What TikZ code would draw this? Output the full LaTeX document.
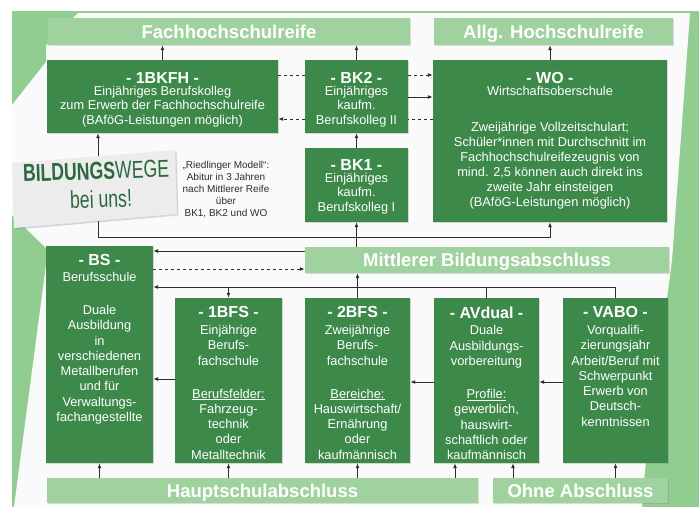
\documentclass[tikz,border=0pt]{standalone}
\usepackage{fontspec}
\setmainfont{Liberation Sans}
\usetikzlibrary{positioning,shadows,arrows.meta}
\definecolor{framegreen}{RGB}{145,205,145}
\definecolor{bargreen}{RGB}{160,210,160}
\definecolor{boxgreen}{RGB}{60,137,74}
\definecolor{signgreen}{RGB}{44,105,62}
\definecolor{paper}{RGB}{250,250,250}
\definecolor{signgray}{RGB}{236,236,236}
\definecolor{linegray}{RGB}{45,45,45}
\newcommand{\ttl}[1]{{\fontsize{16}{16}\selectfont\bfseries - #1 -}}
\newcommand{\drawAtY}[4][]{\draw[#1] (#2 |- 0,#4) to (#3 |- 0,#4)}
\tikzset{
	box/.style={fill=boxgreen, inner sep=0pt, drop shadow={shadow xshift=1.2pt, shadow yshift=-1.2pt, opacity=0.3}},
	lowbox/.style={box, minimum width=105pt, minimum height=165pt},
	bar/.style={fill=bargreen, inner sep=0pt, text=white, font=\fontsize{18.5}{18.5}\selectfont\bfseries, text height=13.2pt, text depth=0pt, minimum height=26pt, drop shadow={shadow xshift=1pt, shadow yshift=-1pt, opacity=0.25}},
	txt/.style={text=white, align=center, inner sep=0pt, font=\fontsize{12.8}{14.6}\selectfont},
	lowtxt/.style={txt, font=\fontsize{12.8}{15.3}\selectfont},
	note/.style={text=linegray, align=center, inner sep=0pt, font=\fontsize{10}{12.2}\selectfont},
	signtxt/.style={text=signgreen, inner sep=0pt, font=\fontsize{24.5}{27}\selectfont, rotate=2}
}
\begin{document}
\begin{tikzpicture}[x=1pt, y=-1pt, >={Latex[length=5pt,width=4pt]}]
	\useasboundingbox (0,0) rectangle (699,507);
	\fill[white] (0,0) rectangle (699,507);
	\fill[framegreen] (12,11) rectangle (699,507);
	\fill[paper] (78,13) -- (690,13) -- (672,260) -- (645,470) -- (642,507) -- (14,507) -- (48,250) -- (12,215) -- (12,105) -- (46,62) -- (46,46) -- cycle;

	\node[bar, minimum width=362pt, minimum height=27pt] (fhr) at (229,31.5) {Fachhochschulreife};
	\node[bar, minimum width=239pt, minimum height=27pt] (ahr) at (553.5,31.5) {Allg. Hochschulreife};
	\node[bar, minimum width=364pt] (mba) at (487,260) {Mittlerer Bildungsabschluss};
	\node[bar, minimum width=431pt, minimum height=25pt] (hsa) at (262.5,490.5) {Hauptschulabschluss};
	\node[bar, minimum width=175pt, minimum height=25pt] (oa) at (580.5,490.5) {Ohne Abschluss};

	\node[box, minimum width=231pt, minimum height=73pt] (bkfh) at (162.5,96.5) {};
	\node[box, minimum width=103pt, minimum height=73pt] (bktwo) at (356.5,96.5) {};
	\node[box, minimum width=103pt, minimum height=74pt] (bkone) at (356.5,185) {};
	\node[box, minimum width=234pt, minimum height=162pt] (wo) at (550,141) {};
	\node[box, minimum width=107pt, minimum height=217pt] (bs) at (99.5,354.5) {};
	\node[lowbox, minimum width=107pt] (bfsone) at (228.5,380.5) {};
	\node[lowbox] (bfstwo) at (357.5,380.5) {};
	\node[lowbox] (avdual) at (486.5,380.5) {};
	\node[lowbox] (vabo) at (615.5,380.5) {};

	\node[txt, below=12pt of bkfh.north] (bkfh-t) {\ttl{1BKFH}\\[-2.6pt]
		Einjähriges Berufskolleg\\ zum Erwerb der Fachhochschulreife\\ (BAföG-Leistungen möglich)};
	\node[txt, below=12pt of bktwo.north] (bktwo-t) {\ttl{BK2}\\[-2.6pt]
		Einjähriges\\ kaufm.\\ Berufskolleg II};
	\node[txt, below=11pt of bkone.north] (bkone-t) {\ttl{BK1}\\[-2.6pt]
		Einjähriges\\ kaufm.\\ Berufskolleg I};
	\node[txt, font=\fontsize{12.8}{15}\selectfont, below=12pt of wo.north] (wo-t) {\ttl{WO}\\[-3pt]
		Wirtschaftsoberschule\\[21pt]
		Zweijährige Vollzeitschulart;\\ Schüler*innen mit Durchschnitt im\\
		Fachhochschulreifezeugnis von\\ mind. 2,5 können auch direkt ins\\
		zweite Jahr einsteigen\\ (BAföG-Leistungen möglich)};
	\node[lowtxt, below=8.5pt of bs.north] (bs-t) {\ttl{BS}\\[0.5pt]
		Berufsschule\\[17.7pt]
		Duale\\ Ausbildung\\ in\\ verschiedenen\\ Metallberufen\\ und für\\ Verwaltungs-\\ fachangestellte};
	\node[lowtxt, below=8.5pt of bfsone.north] (bfsone-t) {\ttl{1BFS}\\[1.5pt]
		Einjährige\\ Berufs-\\ fachschule\\[17.7pt]
		\underline{Berufsfelder:}\\ Fahrzeug-\\ technik\\ oder\\ Metalltechnik};
	\node[lowtxt, below=8.5pt of bfstwo.north] (bfstwo-t) {\ttl{2BFS}\\[1.5pt]
		Zweijährige\\ Berufs-\\ fachschule\\[17.7pt]
		\underline{Bereiche:}\\ Hauswirtschaft/\\ Ernährung\\ oder\\ kaufmännisch};
	\node[lowtxt, below=8.5pt of avdual.north] (avdual-t) {\ttl{AVdual}\\[1.5pt]
		Duale\\ Ausbildungs-\\ vorbereitung\\[17.7pt]
		\underline{Profile:}\\ gewerblich,\\ hauswirt-\\ schaftlich oder\\ kaufmännisch};
	\node[lowtxt, below=8.5pt of vabo.north] (vabo-t) {\ttl{VABO}\\[1.5pt]
		Vorqualifi-\\ zierungsjahr\\ Arbeit/Beruf mit\\ Schwerpunkt\\ Erwerb von\\ Deutsch-\\ kenntnissen};

	\node[note] (riedl) at (226,189.5) {„Riedlinger Modell“:\\ Abitur in 3 Jahren\\ nach Mittlerer Reife\\ über\\ BK1, BK2 und WO};

	\begin{scope}[draw=linegray, line width=1pt]
		\draw[->] (bkfh.north) to (bkfh.north |- fhr.south);
		\draw[->] (bktwo.north) to (bktwo.north |- fhr.south);
		\draw[->] (wo.north) to (wo.north |- ahr.south);
		\draw[->] (bkone.north) to (bktwo.south);
		\drawAtY[dashed]{bkfh.east}{bktwo.west}{75};
		\drawAtY[dashed,->]{bktwo.east}{wo.west}{75};
		\drawAtY[->]{bktwo.east}{wo.west}{97};
		\drawAtY[dashed]{wo.west}{bktwo.east}{119};
		\drawAtY[dashed,->]{bktwo.west}{bkfh.east}{119};

		\coordinate (split) at (bkone.south |- 0,237);
		\draw[->] (mba.north -| bkone.south) to (bkone.south);
		\draw[->] (split) -| (bkfh.south -| 98,0);
		\draw[->] (split) -| (wo.south);

		\drawAtY[->]{mba.west}{bs.east}{251};
		\drawAtY[dashed,->]{bs.east}{mba.west}{269} node[midway, above=1.5pt, inner sep=0pt, text=linegray, font=\fontsize{10.5}{10.5}\selectfont] (modell) {Modell „9 + 3“};
		\draw[->] (vabo.north) |- (bs.east |- 0,287);
		\draw (avdual.north) to (avdual.north |- 0,287);
		\draw[->] (bfsone.north |- 0,287) to (bfsone.north);
		\draw[->] (bfstwo.north) to (bfstwo.north |- mba.south);

		\drawAtY[->]{bfsone.west}{bs.east}{379};
		\drawAtY[->]{avdual.west}{bfstwo.east}{382};
		\drawAtY[->]{vabo.west}{avdual.east}{382};

		\draw[->] (hsa.north -| bs.south) to (bs.south);
		\draw[->] (hsa.north -| bfsone.south) to (bfsone.south);
		\draw[->] (hsa.north -| bfstwo.south) to (bfstwo.south);
		\draw[->] (hsa.north -| 455,0) to (avdual.south -| 455,0);
		\draw[->] (oa.north -| 513,0) to (avdual.south -| 513,0);
		\draw[->] (oa.north -| vabo.south) to (vabo.south);
	\end{scope}

	\fill[signgray, drop shadow={shadow xshift=1.5pt, shadow yshift=-1.5pt, opacity=0.3}] (12,163) -- (175,150) -- (177,214) -- (14,228) -- cycle;
	\node[signtxt] (sign-a) at (96,171) {\scalebox{0.72}[1]{\textbf{BILDUNGS}WEGE}};
	\node[signtxt] (sign-b) at (101,199) {\scalebox{0.72}[1]{bei uns!}};
\end{tikzpicture}
\end{document}
